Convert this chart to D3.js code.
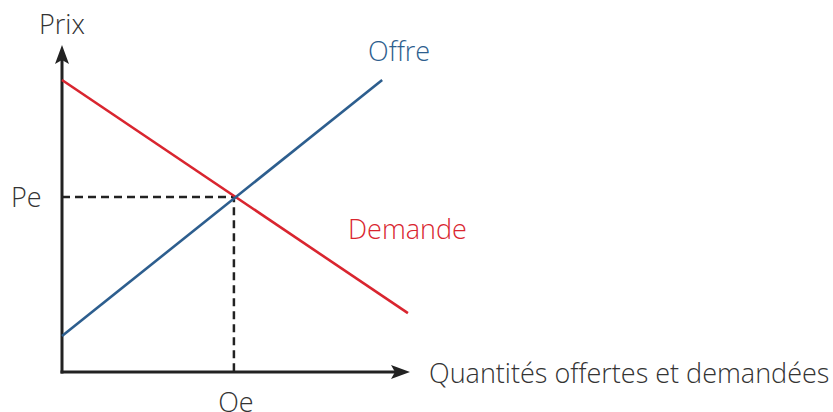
<!DOCTYPE html>
<html lang="fr">
  <head>
    <meta charset="UTF-8" />
    <title>Offre et demande</title>
    <script src="https://d3js.org/d3.v7.min.js"></script>
    <style>
      body {
        margin: 0;
        background: #fff;
      }
      svg text {
        font-family: "Open Sans", "Noto Sans", sans-serif;
        font-weight: 300;
        font-size: 27px;
        fill: #333;
      }
    </style>
  </head>
  <body>
    <svg id="chart" width="833" height="412"></svg>
    <script>
      // valeurs (unités arbitraires 0-10)
      const offre = [
        { q: 0, p: 1.1 },
        { q: 9.2, p: 8.93 },
      ];
      const demande = [
        { q: 0, p: 8.93 },
        { q: 9.94, p: 1.8 },
      ];
      const equilibre = { q: 4.94, p: 5.35 };
      const labels = {
        prix: "Prix",
        quantites: "Quantités offertes et demandées",
        offre: "Offre",
        demande: "Demande",
        pe: "Pe",
        qe: "Qe",
      };

      const svg = d3.select("#chart");
      const x = d3.scaleLinear().domain([0, 10]).range([62, 410]);
      const y = d3.scaleLinear().domain([0, 10]).range([372, 45]);

      const ink = "#222";
      const rouge = "#d9252f";
      const bleu = "#2d5e8e";

      // axes avec flèches
      svg
        .append("line")
        .attr("x1", x(0))
        .attr("y1", y(0) + 1.5)
        .attr("x2", x(0))
        .attr("y2", y(10) + 12)
        .attr("stroke", ink)
        .attr("stroke-width", 3);
      svg
        .append("line")
        .attr("x1", x(0) - 1.5)
        .attr("y1", y(0))
        .attr("x2", x(10) - 12)
        .attr("y2", y(0))
        .attr("stroke", ink)
        .attr("stroke-width", 3);
      svg
        .append("path")
        .attr(
          "d",
          `M${x(0)},${y(10)} L${x(0) + 7},${y(10) + 19} L${x(0)},${y(10) + 15} L${x(0) - 7},${y(10) + 19} Z`
        )
        .attr("fill", ink);
      svg
        .append("path")
        .attr(
          "d",
          `M${x(10)},${y(0)} L${x(10) - 19},${y(0) - 7} L${x(10) - 15},${y(0)} L${x(10) - 19},${y(0) + 7} Z`
        )
        .attr("fill", ink);

      // pointillés de l'équilibre
      svg
        .append("path")
        .attr(
          "d",
          `M${x(0)},${y(equilibre.p)} H${x(equilibre.q)} V${y(0)}`
        )
        .attr("fill", "none")
        .attr("stroke", ink)
        .attr("stroke-width", 2.5)
        .attr("stroke-dasharray", "8,5");

      const line = d3
        .line()
        .x((d) => x(d.q))
        .y((d) => y(d.p));

      svg
        .append("path")
        .datum(demande)
        .attr("d", line)
        .attr("fill", "none")
        .attr("stroke", rouge)
        .attr("stroke-width", 2.6);
      svg
        .append("path")
        .datum(offre)
        .attr("d", line)
        .attr("fill", "none")
        .attr("stroke", bleu)
        .attr("stroke-width", 2.6);

      // textes
      svg.append("text").attr("x", 39).attr("y", 34).text(labels.prix);
      svg.append("text").attr("x", 429).attr("y", 383).text(labels.quantites);
      svg.append("text").attr("x", 11).attr("y", 207).text(labels.pe);
      svg
        .append("text")
        .attr("x", x(equilibre.q) + 2)
        .attr("y", 412)
        .attr("text-anchor", "middle")
        .text(labels.qe);
      svg
        .append("text")
        .attr("x", 368)
        .attr("y", 61)
        .style("fill", bleu)
        .text(labels.offre);
      svg
        .append("text")
        .attr("x", 348)
        .attr("y", 239)
        .style("fill", rouge)
        .text(labels.demande);
    </script>
  </body>
</html>
